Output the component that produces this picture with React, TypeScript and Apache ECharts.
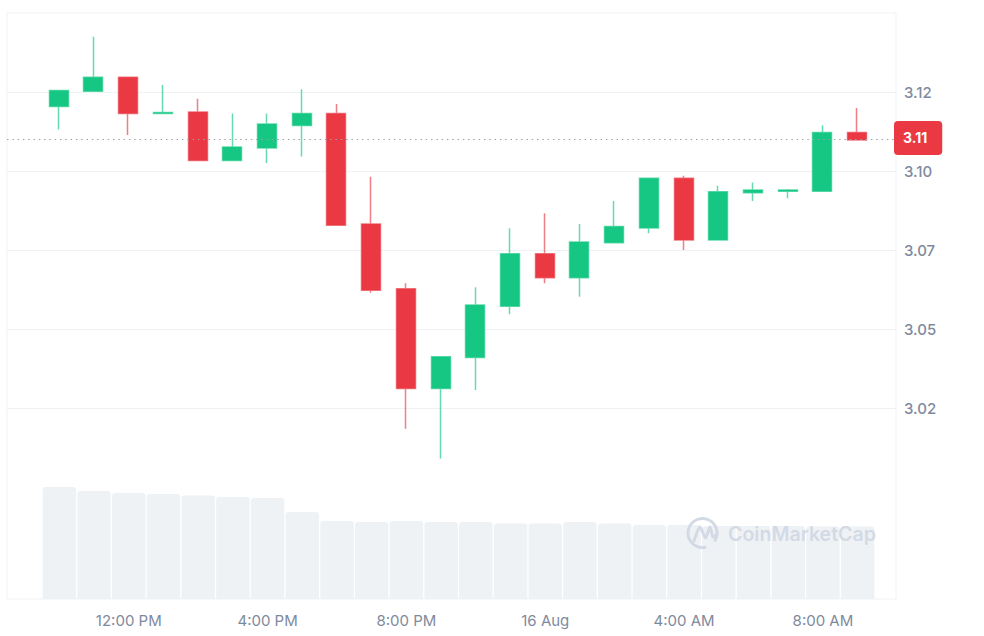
import React, { useEffect, useRef } from "react";
import * as echarts from "echarts";

const GREEN = "#16c784";
const RED = "#ea3943";
const GRID = "#eff2f5";
const MUTED = "#808a9d";

const hours = ["10 AM","11 AM","12 PM","1 PM","2 PM","3 PM","4 PM","5 PM","6 PM","7 PM","8 PM","9 PM","10 PM","11 PM","12 AM","1 AM","2 AM","3 AM","4 AM","5 AM","6 AM","7 AM","8 AM","9 AM"];
const timeLabels: Record<string, string> = {
  "12 PM": "12:00 PM",
  "4 PM": "4:00 PM",
  "8 PM": "8:00 PM",
  "12 AM": "16 Aug",
  "4 AM": "4:00 AM",
  "8 AM": "8:00 AM",
};
const opens = [3.1204,3.1252,3.1297,3.1182,3.1187,3.1033,3.1073,3.1144,3.1182,3.0832,3.0627,3.0312,3.041,3.0572,3.0738,3.0662,3.0773,3.082,3.0977,3.0782,3.0931,3.0936,3.0936,3.1122];
const closes = [3.1255,3.1297,3.1182,3.1185,3.1033,3.1076,3.1149,3.1182,3.0828,3.0623,3.0312,3.0412,3.0576,3.0738,3.0662,3.0775,3.0824,3.0977,3.0782,3.0934,3.094,3.094,3.1122,3.1098];
const lows = [3.1131,3.1252,3.1114,3.1182,3.1033,3.1033,3.1025,3.1046,3.0828,3.0615,3.0184,3.009,3.0307,3.0547,3.0645,3.0602,3.0773,3.0803,3.075,3.0782,3.0905,3.0914,3.0936,3.1098];
const highs = [3.1255,3.1425,3.1297,3.1272,3.1229,3.1182,3.1182,3.1259,3.1212,3.0982,3.0645,3.0412,3.0632,3.0819,3.0866,3.0832,3.0905,3.0977,3.0985,3.0953,3.0964,3.0943,3.1145,3.1199];
const volumes = [112,108,106,105,103.5,102,101,87,78,77,78,77,77,75.5,75.5,77,75.5,74,74,73,73,73,72.5,72.5];
const priceLabels: Record<string, string> = {
  "3.125": "3.12",
  "3.100": "3.10",
  "3.075": "3.07",
  "3.050": "3.05",
  "3.025": "3.02",
};
const currentPriceLabel = "3.11";
const brand = "CoinMarketCap";

const FONT = "Inter";

export default function App() {
  const ref = useRef<HTMLDivElement>(null);
  useEffect(() => {
    if (!ref.current) return;
    const chart = echarts.init(ref.current, undefined, { renderer: "svg" });
    const candles = opens.map((o, i) => [o, closes[i], lows[i], highs[i]]);
    const mark = "#d3dae6";
    chart.setOption({
      animation: false,
      backgroundColor: "#ffffff",
      textStyle: { fontFamily: FONT },
      grid: [
        { left: 7, right: 88, top: 13, height: 474 },
        { left: 41.4, width: 833, top: 13, height: 474 },
        { left: 42, width: 833, top: 487, height: 112 },
      ],
      xAxis: [
        { type: "category", gridIndex: 0, data: hours, show: false },
        { type: "category", gridIndex: 1, data: hours, show: false },
        {
          type: "category",
          gridIndex: 2,
          data: hours,
          axisLine: { show: false },
          axisTick: { show: false },
          axisLabel: {
            interval: 0,
            margin: 14,
            color: MUTED,
            fontSize: 15,
            fontFamily: FONT,
            formatter: (v: string) => timeLabels[v] ?? "",
          },
        },
      ],
      yAxis: [
        {
          type: "value",
          gridIndex: 0,
          position: "right",
          min: 3.0,
          max: 3.15,
          interval: 0.025,
          axisLine: { show: false },
          axisTick: { show: false },
          splitLine: { show: true, showMinLine: false, showMaxLine: false, lineStyle: { color: GRID, width: 1 } },
          axisLabel: {
            margin: 8,
            color: MUTED,
            fontSize: 15,
            fontWeight: 500,
            fontFamily: FONT,
            padding: [0, 0, 2, 0],
            formatter: (v: number) => priceLabels[v.toFixed(3)] ?? "",
          },
        },
        { type: "value", gridIndex: 1, min: 3.0, max: 3.15, interval: 0.025, show: false, splitLine: { show: false } },
        { type: "value", gridIndex: 2, min: 0, max: 112, show: false, splitLine: { show: false } },
      ],
      series: [
        {
          type: "bar",
          xAxisIndex: 2,
          yAxisIndex: 2,
          data: volumes,
          barWidth: 33.5,
          itemStyle: { color: GRID, borderRadius: [3, 3, 0, 0] },
          silent: true,
          z: 1,
        },
        {
          type: "candlestick",
          xAxisIndex: 1,
          yAxisIndex: 1,
          data: candles,
          barWidth: 19.5,
          z: 3,
          itemStyle: {
            color: GREEN,
            color0: RED,
            borderColor: "rgba(22,199,132,0.65)",
            borderColor0: "rgba(234,57,67,0.65)",
            borderWidth: 1.5,
          },
        },
        {
          type: "line",
          xAxisIndex: 0,
          yAxisIndex: 0,
          data: [],
          symbol: "none",
          z: 4,
          markLine: {
            silent: true,
            symbol: "none",
            animation: false,
            lineStyle: { color: "#98a1b0", type: [1.5, 3.8], width: 1 },
            label: {
              show: true,
              position: "end",
              distance: -2,
              offset: [0, -1.5],
              formatter: () => currentPriceLabel,
              backgroundColor: RED,
              color: "#fff",
              fontFamily: FONT,
              fontWeight: 700,
              fontSize: 14,
              borderRadius: 4,
              padding: [10, 15, 10, 9],
            },
            data: [{ yAxis: closes[closes.length - 1] }],
          },
        },
      ],
      graphic: [
        {
          type: "rect",
          silent: true,
          z: -1,
          shape: { x: 7, y: 13, width: 889, height: 586 },
          style: { fill: "none", stroke: GRID, lineWidth: 1 },
        },
        {
          type: "arc",
          silent: true,
          z: 10,
          shape: { cx: 702.5, cy: 533, r: 14.5, startAngle: (80 * Math.PI) / 180, endAngle: (30 * Math.PI) / 180, clockwise: true },
          style: { fill: "none", stroke: mark, lineWidth: 3, lineCap: "round" },
        },
        {
          type: "polyline",
          silent: true,
          z: 10,
          shape: { points: [[694, 541], [700, 527], [705.5, 538], [710, 527], [713, 537], [717, 534]], smooth: 0.25 },
          style: { fill: "none", stroke: mark, lineWidth: 3, lineCap: "round", lineJoin: "round" },
        },
        {
          type: "text",
          silent: true,
          z: 10,
          x: 728,
          y: 534,
          style: {
            text: brand,
            fill: mark,
            font: `600 19.6px ${FONT}`,
            textVerticalAlign: "middle",
            verticalAlign: "middle",
          },
        },
      ],
    });
    return () => chart.dispose();
  }, []);
  return <div ref={ref} style={{ position: "fixed", left: 0, top: 0, width: 984, height: 636 }} />;
}
